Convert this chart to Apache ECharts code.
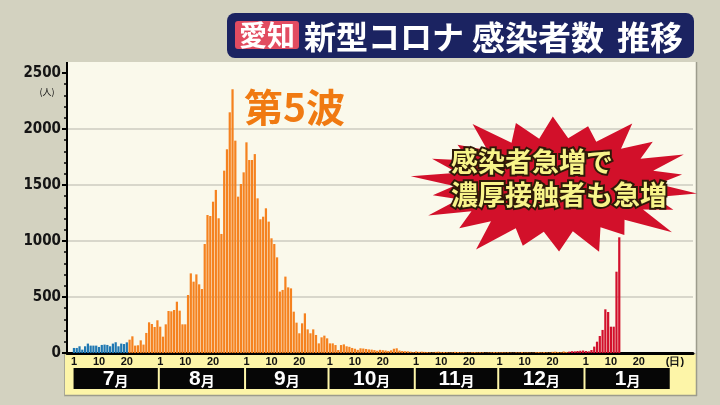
<!DOCTYPE html>
<html><head><meta charset="utf-8">
<script src="https://cdn.jsdelivr.net/npm/echarts@6/dist/echarts.min.js"></script>
<style>html,body{margin:0;padding:0;background:#d3d2c0}#c{width:720px;height:405px}</style>
</head><body><div id="c"></div>
<script>
// ---- data ----
const monthNames = ['7月','8月','9月','10月','11月','12月','1月'];
const monthDays = [31,31,30,31,30,31,31];
const tickDays = [1,10,20];
const dayUnitLabel = '(日)';
const leadBlank = 2;   // empty slots before 7/1
const trailBlank = 8;  // empty slots after 1/31
// 7/1 - 7/20 (blue)
const blueValues = [45,45,60,30,60,84,66,66,66,54,72,75,72,60,84,96,60,84,80,95];
// 7/21 - 12/25 (orange, 5th wave)
const orangeValues = [
  119,149,66,69,113,75,179,274,259,232,292,
  235,146,256,375,372,384,458,378,256,256,518,711,637,702,613,571,973,1232,1223,1351,1456,1203,1063,1628,1819,2149,2355,1896,1396,1509,1613,
  1881,1723,1723,1776,1381,1194,1217,1292,1173,1024,973,854,548,563,682,586,577,369,271,176,265,354,211,176,211,161,86,140,155,131,
  86,86,71,27,71,77,60,55,45,38,28,42,40,36,32,30,26,20,28,25,22,18,24,38,42,22,18,16,15,12,8,
  14,10,12,10,9,6,5,10,12,8,9,7,5,6,10,9,7,8,5,4,7,9,6,7,6,3,5,6,8,7,
  6,7,5,6,4,3,6,5,8,5,6,4,3,7,9,6,8,5,4,10,12,8,6,14,10
];
// 12/26 - 1/13 (red)
const redValues = [12,16,15,18,20,22, 18,15,27,57,101,152,206,390,366,235,235,726,1033];
const yMax = 2500, yInterval = 500;

// ---- categories ----
const cats = []; const tickMap = {}; const monthRanges = [];
for (let i = 0; i < leadBlank; i++) cats.push('pre' + i);
monthNames.forEach((m, mi) => {
  const s = cats.length;
  for (let d = 1; d <= monthDays[mi]; d++) {
    const key = m + '-' + d; cats.push(key);
    if (tickDays.includes(d)) tickMap[key] = String(d);
  }
  monthRanges.push([s, cats.length - 1, 0]);
});
for (let i = 1; i <= trailBlank; i++) cats.push('2月-' + i);
tickMap['2月-2'] = dayUnitLabel;

function place(vals, offset) {
  const arr = new Array(cats.length).fill('-');
  vals.forEach((v, i) => { arr[leadBlank + offset + i] = v; });
  return arr;
}

// ---- decoration: starburst ----
const sc = [556, 185];
const sf = [1,.9,1.06,.86,1,.95,.9,1.08,.92,1,.88,1.03,.95,.9,1.05,.93,.98,.87,1.03,.92,1,.9];
const starPts = [];
for (let i = 0; i < sf.length; i++) {
  const a = (i / sf.length) * Math.PI * 2 + 0.12;
  const b = a + Math.PI / sf.length;
  starPts.push([sc[0] + Math.cos(a) * 142 * sf[i], sc[1] + Math.sin(a) * 70 * sf[i]]);
  starPts.push([sc[0] + Math.cos(b) * 102, sc[1] + Math.sin(b) * 47]);
}

const narrow = "'Liberation Sans Narrow','DejaVu Sans Condensed',sans-serif";
const jp = "'Noto Sans CJK JP',sans-serif";

const chart = echarts.init(document.getElementById('c'));
chart.setOption({
  backgroundColor: '#d3d2c0',
  animation: false,
  grid: { left: 67, right: 27, top: 73, bottom: 52 },
  xAxis: {
    type: 'category', data: cats, boundaryGap: true,
    axisLine: { lineStyle: { color: '#000', width: 3 } },
    axisTick: { show: false },
    axisLabel: { interval: 0, margin: 3, fontSize: 11, fontWeight: 'bold', color: '#111',
      fontFamily: 'Liberation Sans, sans-serif', formatter: v => tickMap[v] || '' },
    splitLine: { show: false }
  },
  yAxis: {
    type: 'value', min: 0, max: yMax, interval: yInterval,
    axisLine: { show: true, lineStyle: { color: '#000', width: 2 } },
    axisTick: { show: true, length: 5, lineStyle: { color: '#000', width: 2 } },
    minorTick: { show: true, splitNumber: 5, length: 3, lineStyle: { color: '#000', width: 1.5 } },
    splitLine: { show: true, showMinLine: false, showMaxLine: false, lineStyle: { color: '#d8d7cb', width: 2 } },
    axisLabel: { margin: 6, fontSize: 15, fontWeight: 'bold', color: '#151515', fontFamily: narrow,
      formatter: v => String(v) }
  },
  series: [
    { type: 'bar', data: place(blueValues, 0), barGap: '-100%', barCategoryGap: '20%',
      itemStyle: { color: '#1f78b2' } },
    { type: 'bar', data: place(orangeValues, blueValues.length), barGap: '-100%', barCategoryGap: '20%',
      itemStyle: { color: '#f5821f' } },
    { type: 'bar', data: place(redValues, blueValues.length + orangeValues.length), barGap: '-100%', barCategoryGap: '20%',
      itemStyle: { color: '#d2102c' } },
    { type: 'custom', data: monthRanges, encode: { x: [0, 1], y: 2 }, clip: false, z: 5,
      renderItem: (params, api) => {
        const a = api.coord([api.value(0), 0]);
        const b = api.coord([api.value(1), 0]);
        const bw = api.size([1, 0])[0];
        const x0 = a[0] - bw / 2 + 1, x1 = b[0] + bw / 2 - 1;
        const y0 = a[1] + 15;
        const num = monthNames[params.dataIndex].replace('月', '');
        return { type: 'group', children: [
          { type: 'rect', shape: { x: x0, y: y0, width: x1 - x0, height: 21 }, style: { fill: '#060606' } },
          { type: 'text', style: { x: (x0 + x1) / 2, y: y0 + 11, align: 'center', verticalAlign: 'middle',
              text: '{n|' + num + '}{m|月}',
              rich: { n: { fontSize: 21, fontWeight: 'bold', fill: '#fff', fontFamily: 'Liberation Sans, sans-serif' },
                      m: { fontSize: 14, fontWeight: 'bold', fill: '#fff', fontFamily: jp, padding: [4, 0, 0, 0] } } } }
        ] };
      } }
  ],
  graphic: [
    { type: 'rect', z: -1, shape: { x: 67, y: 62, width: 629, height: 291 }, style: { fill: '#faf9eb' } },
    { type: 'rect', z: -1, shape: { x: 65, y: 354, width: 631, height: 41 }, style: { fill: '#fdf5a8' } },
    { type: 'line', z: -1, shape: { x1: 696.5, y1: 62, x2: 696.5, y2: 396 }, style: { stroke: '#9c9c8c', lineWidth: 1.5 } },
    { type: 'line', z: -1, shape: { x1: 64, y1: 395.5, x2: 697, y2: 395.5 }, style: { stroke: '#9c9c8c', lineWidth: 1.5 } },
    { type: 'line', z: -1, shape: { x1: 64.5, y1: 354, x2: 64.5, y2: 396 }, style: { stroke: '#a8a898', lineWidth: 1 } },
    { type: 'line', z: 3, shape: { x1: 67, y1: 62, x2: 67, y2: 74 }, style: { stroke: '#000', lineWidth: 2 } },
    { type: 'text', z: 3, style: { x: 47, y: 92, text: '(人)', font: '9px ' + jp, fill: '#111', align: 'center', verticalAlign: 'middle' } },
    // title
    { type: 'rect', z: 10, shape: { x: 227, y: 13, width: 467, height: 45, r: 8 }, style: { fill: '#1b2361' } },
    { type: 'rect', z: 11, shape: { x: 235, y: 21, width: 64, height: 28, r: 3 }, style: { fill: '#e24c61' } },
    { type: 'text', z: 12, style: { x: 267, y: 35.5, text: '愛知', font: 'bold 28px ' + jp, fill: '#fff', align: 'center', verticalAlign: 'middle' } },
    { type: 'text', z: 12, style: { x: 304, y: 37, text: '新型コロナ', font: 'bold 32px ' + jp, fill: '#fff', align: 'left', verticalAlign: 'middle' } },
    { type: 'text', z: 12, style: { x: 472, y: 37, text: '感染者数', font: 'bold 33px ' + jp, fill: '#fff', align: 'left', verticalAlign: 'middle' } },
    { type: 'text', z: 12, style: { x: 617, y: 37, text: '推移', font: 'bold 33px ' + jp, fill: '#fff', align: 'left', verticalAlign: 'middle' } },
    // wave label
    { type: 'text', z: 12, style: { x: 244, y: 107, text: '第5波', font: 'bold 39px ' + jp, fill: '#f07a12', align: 'left', verticalAlign: 'middle' } },
    // starburst
    { type: 'polygon', z: 12, shape: { points: starPts }, style: { fill: '#d2102a' } },
    { type: 'text', z: 13, style: { x: 451, y: 162, text: '感染者急増で', font: 'bold 27px ' + jp, fill: '#f8f48a', stroke: '#2e1a08', lineWidth: 4, align: 'left', verticalAlign: 'middle' } },
    { type: 'text', z: 13, style: { x: 451, y: 195, text: '濃厚接触者も急増', font: 'bold 27px ' + jp, fill: '#f8f48a', stroke: '#2e1a08', lineWidth: 4, align: 'left', verticalAlign: 'middle' } }
  ]
});
</script></body></html>
